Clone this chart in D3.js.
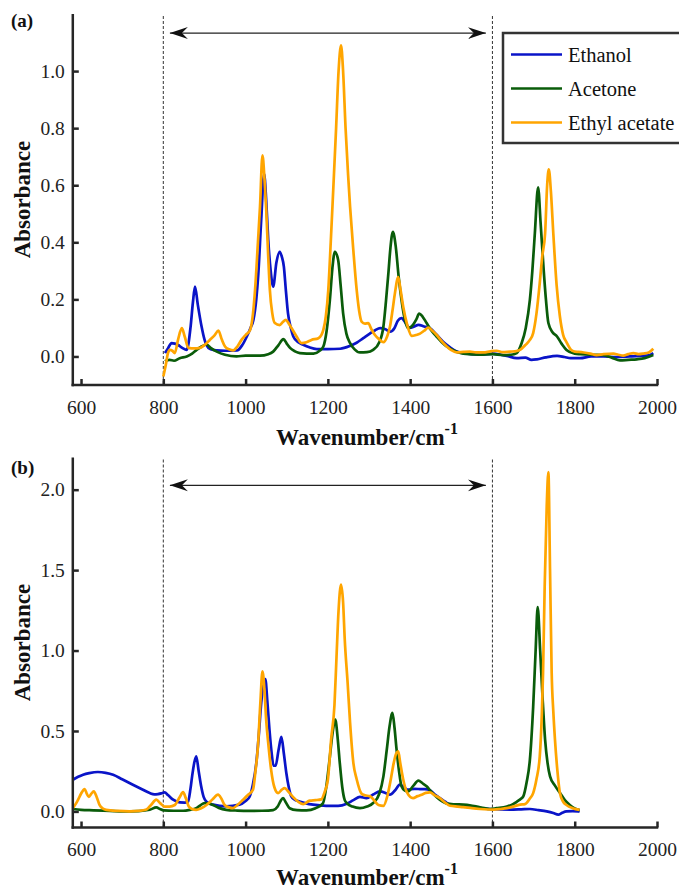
<!DOCTYPE html>
<html>
<head>
<meta charset="utf-8">
<script src="https://cdn.jsdelivr.net/npm/d3@7"></script>
<style>
  html, body { margin: 0; padding: 0; background: #fff; }
  svg { display: block; font-family: "Liberation Serif", "Times New Roman", Times, serif; }
</style>
</head>
<body>
<svg id="chart" width="679" height="889"></svg>
<script>
// ---------- data ----------
const seriesNames = ["Ethanol", "Acetone", "Ethyl acetate"];
const seriesColors = ["#0a14c8", "#0a5c0a", "#ffa500"];
const xTicks = [600, 800, 1000, 1200, 1400, 1600, 1800, 2000];
const yTicksA = [0.0, 0.2, 0.4, 0.6, 0.8, 1.0];
const yTicksB = [0.0, 0.5, 1.0, 1.5, 2.0];
const xDomain = [580, 2000];
const yDomainA = [-0.1, 1.2];
const yDomainB = [-0.1, 2.2];
const regionBounds = [800, 1600];
const arrowRange = [816, 1584];
const arrowLevelA = 1.133;
const arrowLevelB = 2.027;

const ethanolA = [[804,0.012],[812,0.03],[820,0.047],[828,0.045],[836,0.04],[846,0.03],[857,0.023],[866,0.1],[872,0.19],[877,0.245],[884,0.18],[893,0.105],[900,0.06],[905,0.04],[915,0.025],[930,0.021],[950,0.02],[979,0.021],[992,0.04],[1003,0.07],[1012,0.1],[1019,0.128],[1026,0.2],[1031,0.29],[1038,0.48],[1045,0.64],[1050,0.55],[1055,0.41],[1061,0.3],[1067,0.245],[1075,0.33],[1083,0.367],[1088,0.35],[1093,0.315],[1098,0.23],[1103,0.152],[1110,0.1],[1116,0.07],[1128,0.05],[1140,0.041],[1155,0.032],[1173,0.026],[1200,0.026],[1230,0.027],[1254,0.037],[1270,0.048],[1286,0.064],[1302,0.08],[1315,0.092],[1327,0.099],[1340,0.095],[1351,0.087],[1362,0.1],[1370,0.125],[1379,0.134],[1390,0.115],[1399,0.1],[1410,0.105],[1420,0.111],[1434,0.105],[1448,0.099],[1465,0.075],[1480,0.052],[1497,0.032],[1513,0.017],[1540,0.01],[1570,0.006],[1603,0.01],[1620,0.006],[1635,0.002],[1659,-0.006],[1680,-0.004],[1695,-0.012],[1708,-0.01],[1730,-0.003],[1757,0.002],[1775,-0.002],[1790,-0.006],[1813,-0.006],[1840,0.0],[1870,0.0],[1900,-0.002],[1934,0.0],[1960,0.002],[1980,0.004],[1991,0.012]];

const acetoneA = [[804,-0.017],[815,-0.012],[826,-0.015],[840,-0.006],[857,0.0],[870,0.01],[881,0.023],[893,0.035],[905,0.042],[915,0.03],[930,0.017],[950,0.006],[978,0.0],[1000,0.003],[1035,0.003],[1055,0.008],[1067,0.017],[1080,0.04],[1092,0.061],[1100,0.045],[1108,0.03],[1120,0.018],[1132,0.012],[1165,0.01],[1180,0.02],[1189,0.035],[1197,0.09],[1205,0.2],[1211,0.31],[1217,0.367],[1225,0.338],[1231,0.25],[1237,0.152],[1245,0.08],[1254,0.047],[1265,0.025],[1278,0.014],[1295,0.015],[1310,0.023],[1325,0.05],[1335,0.105],[1341,0.19],[1347,0.29],[1352,0.38],[1358,0.437],[1365,0.385],[1372,0.28],[1379,0.198],[1387,0.13],[1395,0.099],[1407,0.111],[1415,0.13],[1422,0.15],[1430,0.14],[1440,0.117],[1452,0.09],[1464,0.07],[1477,0.05],[1489,0.035],[1510,0.018],[1529,0.01],[1570,0.006],[1600,0.008],[1626,0.005],[1645,0.006],[1659,0.012],[1671,0.047],[1681,0.1],[1691,0.198],[1697,0.3],[1703,0.43],[1711,0.593],[1717,0.47],[1724,0.315],[1730,0.2],[1736,0.117],[1746,0.085],[1757,0.07],[1768,0.045],[1780,0.023],[1800,0.01],[1814,0.008],[1840,0.006],[1870,0.005],[1890,-0.004],[1910,-0.014],[1930,-0.012],[1951,-0.01],[1970,-0.006],[1991,0.005]];

const ethylAcetateA = [[800,-0.07],[806,-0.03],[811,0.01],[816,0.023],[822,0.02],[828,0.012],[836,0.06],[845,0.099],[852,0.07],[861,0.03],[875,0.028],[889,0.03],[900,0.04],[913,0.058],[925,0.075],[934,0.091],[942,0.06],[950,0.035],[960,0.025],[970,0.021],[980,0.035],[990,0.058],[1000,0.075],[1011,0.093],[1018,0.15],[1023,0.233],[1030,0.4],[1035,0.524],[1041,0.705],[1046,0.62],[1050,0.52],[1055,0.35],[1059,0.233],[1065,0.15],[1071,0.117],[1083,0.11],[1090,0.12],[1098,0.128],[1105,0.115],[1112,0.099],[1124,0.07],[1136,0.047],[1148,0.05],[1160,0.058],[1177,0.064],[1184,0.075],[1189,0.093],[1195,0.14],[1201,0.233],[1207,0.4],[1213,0.583],[1220,0.8],[1226,1.0],[1232,1.09],[1237,1.0],[1243,0.8],[1249,0.64],[1254,0.524],[1262,0.37],[1270,0.233],[1276,0.16],[1282,0.122],[1290,0.115],[1298,0.117],[1306,0.095],[1314,0.076],[1325,0.06],[1335,0.05],[1344,0.07],[1351,0.105],[1357,0.16],[1363,0.222],[1371,0.278],[1377,0.23],[1383,0.175],[1393,0.11],[1404,0.072],[1414,0.075],[1424,0.08],[1434,0.09],[1444,0.101],[1454,0.09],[1464,0.076],[1476,0.055],[1489,0.035],[1500,0.022],[1513,0.014],[1530,0.016],[1545,0.017],[1560,0.014],[1578,0.014],[1595,0.018],[1610,0.02],[1625,0.015],[1643,0.017],[1655,0.018],[1667,0.023],[1680,0.04],[1691,0.058],[1699,0.082],[1707,0.15],[1715,0.257],[1721,0.35],[1728,0.431],[1733,0.6],[1737,0.656],[1742,0.58],[1748,0.43],[1756,0.25],[1764,0.14],[1772,0.075],[1780,0.05],[1790,0.025],[1800,0.017],[1809,0.016],[1822,0.014],[1838,0.01],[1853,0.005],[1870,0.008],[1894,0.01],[1906,0.006],[1918,0.003],[1930,0.008],[1943,0.012],[1955,0.008],[1967,0.01],[1980,0.014],[1991,0.027]];

const ethanolB = [[580,0.197],[593,0.215],[605,0.228],[620,0.238],[641,0.245],[660,0.24],[678,0.228],[700,0.2],[726,0.166],[748,0.138],[767,0.114],[778,0.106],[787,0.108],[795,0.112],[803,0.118],[812,0.1],[824,0.073],[840,0.056],[852,0.055],[860,0.06],[866,0.14],[870,0.218],[875,0.3],[880,0.342],[886,0.25],[892,0.156],[898,0.09],[905,0.06],[921,0.042],[953,0.031],[985,0.042],[1000,0.065],[1010,0.093],[1018,0.17],[1026,0.3],[1032,0.47],[1038,0.674],[1043,0.78],[1048,0.823],[1053,0.68],[1058,0.508],[1063,0.37],[1068,0.284],[1073,0.284],[1080,0.38],[1087,0.463],[1093,0.36],[1099,0.239],[1105,0.15],[1111,0.093],[1120,0.072],[1131,0.062],[1147,0.05],[1164,0.042],[1196,0.035],[1225,0.035],[1246,0.048],[1262,0.07],[1278,0.09],[1294,0.083],[1310,0.105],[1327,0.124],[1340,0.115],[1351,0.104],[1363,0.13],[1375,0.166],[1385,0.15],[1395,0.135],[1410,0.14],[1424,0.139],[1436,0.138],[1448,0.131],[1460,0.105],[1472,0.083],[1485,0.06],[1497,0.042],[1520,0.032],[1545,0.027],[1570,0.02],[1594,0.015],[1620,0.012],[1643,0.011],[1670,0.013],[1691,0.015],[1712,0.008],[1732,0.0],[1748,-0.01],[1760,-0.02],[1770,-0.008],[1780,0.0],[1795,0.002],[1809,0.0],[1812,-0.002]];

const acetoneB = [[580,0.015],[600,0.01],[630,0.007],[670,0.003],[702,0.0],[740,0.002],[767,0.01],[783,0.025],[792,0.015],[801,0.006],[825,0.004],[848,0.004],[865,0.01],[880,0.02],[890,0.038],[900,0.052],[910,0.05],[921,0.04],[935,0.022],[953,0.01],[980,0.005],[1010,0.003],[1040,0.004],[1067,0.008],[1078,0.03],[1085,0.065],[1091,0.083],[1098,0.055],[1107,0.02],[1125,0.008],[1148,0.006],[1170,0.02],[1188,0.05],[1196,0.15],[1204,0.32],[1211,0.48],[1218,0.57],[1224,0.45],[1229,0.3],[1235,0.15],[1241,0.07],[1246,0.052],[1260,0.03],[1278,0.02],[1295,0.03],[1310,0.052],[1325,0.11],[1335,0.218],[1343,0.38],[1350,0.53],[1357,0.612],[1362,0.52],[1367,0.384],[1373,0.25],[1379,0.156],[1387,0.13],[1395,0.125],[1408,0.16],[1420,0.191],[1430,0.175],[1440,0.156],[1452,0.12],[1464,0.09],[1476,0.065],[1489,0.048],[1510,0.044],[1529,0.042],[1545,0.038],[1562,0.03],[1580,0.02],[1594,0.015],[1610,0.02],[1635,0.03],[1650,0.045],[1659,0.06],[1670,0.08],[1675,0.093],[1683,0.18],[1691,0.32],[1699,0.65],[1705,1.0],[1710,1.27],[1716,1.0],[1722,0.7],[1728,0.446],[1734,0.3],[1740,0.218],[1752,0.16],[1764,0.116],[1776,0.07],[1788,0.04],[1800,0.018],[1812,0.008]];

const ethylAcetateB = [[580,0.02],[588,0.05],[593,0.073],[600,0.11],[609,0.139],[614,0.11],[619,0.09],[625,0.11],[631,0.124],[638,0.09],[645,0.04],[653,0.018],[661,0.01],[690,0.003],[718,0.0],[740,0.003],[759,0.012],[770,0.04],[783,0.073],[793,0.05],[803,0.03],[815,0.03],[828,0.04],[840,0.09],[848,0.12],[855,0.08],[862,0.03],[870,0.015],[880,0.01],[892,0.02],[905,0.04],[920,0.075],[933,0.104],[941,0.08],[949,0.04],[960,0.025],[969,0.02],[980,0.04],[994,0.073],[1005,0.1],[1018,0.135],[1024,0.25],[1030,0.404],[1036,0.68],[1041,0.87],[1046,0.75],[1050,0.57],[1056,0.4],[1062,0.26],[1070,0.15],[1079,0.114],[1088,0.135],[1095,0.145],[1105,0.12],[1115,0.09],[1128,0.06],[1140,0.045],[1156,0.067],[1170,0.07],[1184,0.075],[1192,0.12],[1200,0.197],[1208,0.45],[1216,0.66],[1221,0.96],[1226,1.25],[1232,1.41],[1237,1.3],[1241,1.07],[1248,0.8],[1254,0.55],[1262,0.3],[1270,0.2],[1282,0.11],[1290,0.1],[1302,0.095],[1312,0.07],[1323,0.04],[1335,0.035],[1345,0.1],[1353,0.2],[1360,0.3],[1366,0.36],[1371,0.373],[1376,0.3],[1383,0.2],[1392,0.12],[1407,0.083],[1418,0.095],[1428,0.104],[1438,0.115],[1448,0.118],[1460,0.1],[1472,0.083],[1485,0.055],[1497,0.035],[1515,0.03],[1529,0.027],[1550,0.02],[1570,0.015],[1590,0.012],[1603,0.011],[1620,0.015],[1635,0.02],[1650,0.03],[1667,0.042],[1679,0.045],[1691,0.08],[1699,0.114],[1707,0.2],[1715,0.342],[1720,0.6],[1723,0.86],[1727,1.4],[1732,1.9],[1736,2.11],[1740,1.5],[1744,0.86],[1748,0.62],[1752,0.446],[1758,0.25],[1764,0.114],[1772,0.06],[1780,0.04],[1795,0.02],[1812,0.01]];

// ---------- layout ----------
const svg = d3.select("#chart");
const FONT = '"Liberation Serif", "Times New Roman", Times, serif';
const AXIS_COLOR = "#262626";

const panels = [
  { label: "(a)", series: [ethanolA, acetoneA, ethylAcetateA], yDomain: yDomainA, yTicks: yTicksA,
    yRange: [385, 14], labelY: 27, titleGap: 60, arrowLevel: arrowLevelA, legend: true },
  { label: "(b)", series: [ethanolB, acetoneB, ethylAcetateB], yDomain: yDomainB, yTicks: yTicksB,
    yRange: [827.5, 457.5], labelY: 474, titleGap: 57, arrowLevel: arrowLevelB, legend: false }
];

const x = d3.scaleLinear().domain(xDomain).range([72.8, 657]);

const defs = svg.append("defs");
defs.append("marker")
  .attr("id", "stealth")
  .attr("viewBox", "0 -7 20 14")
  .attr("refX", 18).attr("refY", 0)
  .attr("markerWidth", 20).attr("markerHeight", 14)
  .attr("markerUnits", "userSpaceOnUse")
  .attr("orient", "auto-start-reverse")
  .append("path")
  .attr("d", "M0,-6 L18,0 L0,6 L6,0 Z")
  .attr("fill", "#111");

panels.forEach(p => {
  const y = d3.scaleLinear().domain(p.yDomain).range(p.yRange);
  const g = svg.append("g");
  const y0 = p.yRange[0], y1 = p.yRange[1];

  // dashed region bounds
  g.selectAll("line.bound").data(regionBounds).join("line")
    .attr("class", "bound")
    .attr("x1", d => x(d)).attr("x2", d => x(d))
    .attr("y1", y1 + 2).attr("y2", y0)
    .attr("stroke", "#333").attr("stroke-width", 1)
    .attr("stroke-dasharray", "3,2");

  // double arrow
  g.append("line")
    .attr("x1", x(arrowRange[0])).attr("x2", x(arrowRange[1]))
    .attr("y1", y(p.arrowLevel)).attr("y2", y(p.arrowLevel))
    .attr("stroke", "#222").attr("stroke-width", 1.2)
    .attr("marker-start", "url(#stealth)")
    .attr("marker-end", "url(#stealth)");

  // series lines
  const line = d3.line().x(d => x(d[0])).y(d => y(d[1])).curve(d3.curveMonotoneX);
  p.series.forEach((s, i) => {
    g.append("path").datum(s)
      .attr("d", line)
      .attr("fill", "none")
      .attr("stroke", seriesColors[i])
      .attr("stroke-width", 2.7)
      .attr("stroke-linejoin", "round");
  });

  // y axis
  const yAxis = d3.axisLeft(y).tickValues(p.yTicks).tickFormat(d3.format(".1f"))
    .tickSize(-6).tickPadding(8).tickSizeOuter(0);
  const gy = g.append("g").attr("transform", `translate(${x(xDomain[0])},0)`).call(yAxis);
  gy.select(".domain").remove();
  gy.selectAll(".tick line").attr("stroke", AXIS_COLOR).attr("stroke-width", 2.5);
  gy.selectAll(".tick text").style("font-family", FONT).style("font-size", "19.5px").attr("fill", "#222");

  // x axis
  const xAxis = d3.axisBottom(x).tickValues(xTicks).tickFormat(d3.format("d"))
    .tickSize(-6).tickPadding(15).tickSizeOuter(0);
  const gx = g.append("g").attr("transform", `translate(0,${y0})`).call(xAxis);
  gx.select(".domain").remove();
  gx.selectAll(".tick line").attr("stroke", AXIS_COLOR).attr("stroke-width", 2.5);
  gx.selectAll(".tick text").style("font-family", FONT).style("font-size", "19.5px").attr("fill", "#222");

  // spines
  g.append("line")
    .attr("x1", x(xDomain[0])).attr("x2", x(xDomain[0]))
    .attr("y1", y1).attr("y2", y0 + 1.25)
    .attr("stroke", AXIS_COLOR).attr("stroke-width", 2.5);
  g.append("line")
    .attr("x1", x(xDomain[0]) - 1.25).attr("x2", x(xDomain[1]) + 1.25)
    .attr("y1", y0).attr("y2", y0)
    .attr("stroke", AXIS_COLOR).attr("stroke-width", 2.5);

  // axis titles
  const xt = g.append("text")
    .attr("x", (x.range()[0] + x.range()[1]) / 2 + 2)
    .attr("y", y0 + p.titleGap)
    .attr("text-anchor", "middle")
    .style("font-family", FONT).style("font-weight", "bold").style("font-size", "23px")
    .attr("fill", "#111");
  xt.append("tspan").text("Wavenumber/cm");
  xt.append("tspan").text("-1").style("font-size", "16px").attr("dy", -11);

  g.append("text")
    .attr("transform", `translate(30,${(y0 + y1) / 2}) rotate(-90)`)
    .attr("text-anchor", "middle")
    .style("font-family", FONT).style("font-weight", "bold").style("font-size", "23px")
    .attr("fill", "#111")
    .text("Absorbance");

  // panel label
  g.append("text")
    .attr("x", 11).attr("y", p.labelY)
    .style("font-family", FONT).style("font-weight", "bold").style("font-size", "19px")
    .attr("fill", "#111")
    .text(p.label);

  // legend
  if (p.legend) {
    const lg = g.append("g").attr("transform", "translate(503,33)");
    lg.append("rect").attr("x", 0).attr("y", 0).attr("width", 200).attr("height", 110)
      .attr("fill", "#fff").attr("stroke", "#333").attr("stroke-width", 2.5);
    seriesNames.forEach((n, i) => {
      const yy = 21.5 + i * 34;
      lg.append("line").attr("x1", 8).attr("x2", 59).attr("y1", yy).attr("y2", yy)
        .attr("stroke", seriesColors[i]).attr("stroke-width", 2.7);
      lg.append("text").attr("x", 65).attr("y", yy + 7)
        .style("font-family", FONT).style("font-size", "20.5px").attr("fill", "#111")
        .text(n);
    });
  }
});
</script>
</body>
</html>
